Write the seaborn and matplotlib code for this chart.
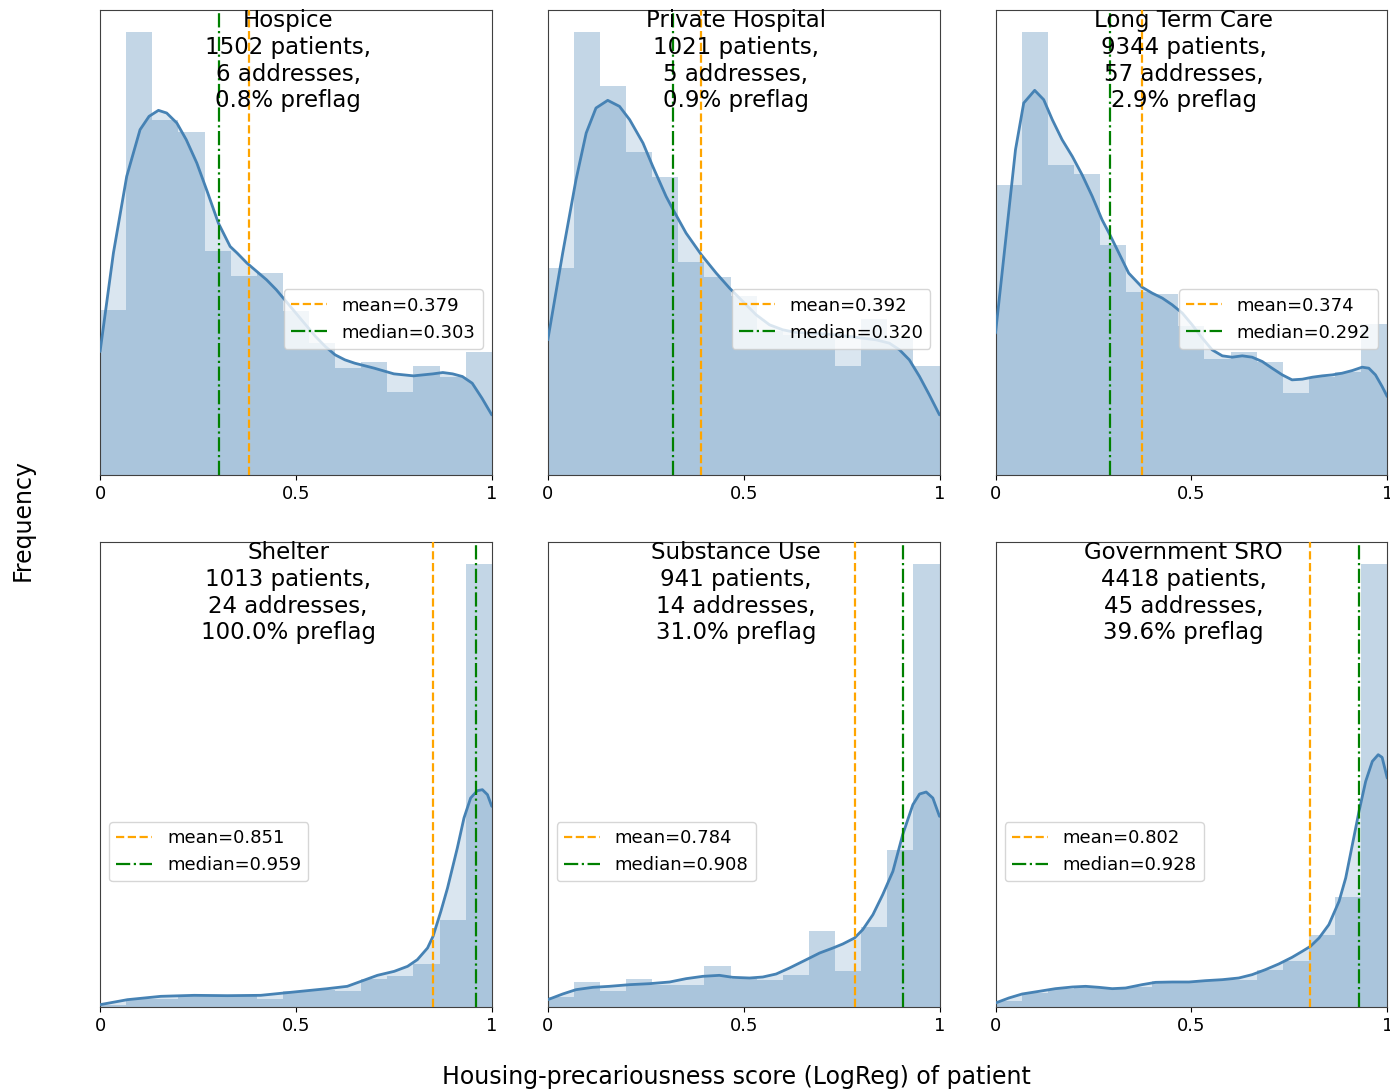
import numpy as np
import pandas as pd
import matplotlib
matplotlib.use("Agg")
import matplotlib.pyplot as plt
import seaborn as sns

# panels, in reading order
groups = ["Hospice", "Private Hospital", "Long Term Care",
          "Shelter", "Substance Use", "Government SRO"]
n_patients = [1502, 1021, 9344, 1013, 941, 4418]
n_addresses = [6, 5, 57, 24, 14, 45]
preflag_pct = [0.8, 0.9, 2.9, 100.0, 31.0, 39.6]
means = [0.379, 0.392, 0.374, 0.851, 0.784, 0.802]
medians = [0.303, 0.320, 0.292, 0.959, 0.908, 0.928]

# histogram heights (15 bins on [0, 1], arbitrary density units)
hist_hospice = [495, 1328, 1063, 1029, 670, 595, 605, 490, 395, 320, 340, 250, 328, 295, 370]
hist_private = [620, 1328, 1167, 968, 893, 638, 592, 535, 430, 420, 410, 328, 467, 410, 328]
hist_ltc = [868, 1328, 928, 903, 690, 548, 542, 445, 348, 368, 338, 245, 293, 308, 453]
hist_shelter = [7, 25, 25, 34, 32, 32, 25, 47, 50, 47, 84, 92, 130, 260, 1329]
hist_substance = [29, 75, 47, 84, 65, 65, 124, 84, 82, 95, 229, 109, 239, 470, 1329]
hist_sro = [17, 42, 55, 62, 57, 59, 77, 74, 82, 82, 112, 139, 217, 329, 1329]

# kde curves, points (same units as the bars)
kde_x_hospice = [0, 0.034, 0.068, 0.102, 0.125, 0.149, 0.17, 0.196, 0.22, 0.247, 0.275, 0.302,
                 0.332, 0.35, 0.375, 0.4, 0.425, 0.45, 0.475, 0.5, 0.525, 0.55, 0.575, 0.6,
                 0.625, 0.65, 0.7, 0.75, 0.8, 0.85, 0.875, 0.9, 0.925, 0.95, 0.975, 1.0]
kde_y_hospice = [370, 665, 895, 1035, 1075, 1093, 1085, 1055, 1005, 935, 845, 755,
                 685, 665, 635, 610, 585, 555, 520, 485, 450, 415, 385, 360,
                 345, 335, 320, 303, 297, 303, 307, 303, 295, 275, 230, 180]
kde_x_private = [0, 0.038, 0.072, 0.098, 0.123, 0.153, 0.183, 0.209, 0.243, 0.268, 0.302,
                 0.320, 0.353, 0.392, 0.430, 0.464, 0.498, 0.532, 0.566, 0.6, 0.634, 0.668,
                 0.702, 0.736, 0.770, 0.804, 0.838, 0.872, 0.898, 0.923, 0.949, 0.974, 1.0]
kde_y_private = [405, 665, 885, 1025, 1100, 1123, 1105, 1065, 995, 925, 835,
                 795, 725, 660, 605, 560, 520, 480, 450, 435, 427, 425,
                 423, 420, 415, 410, 405, 395, 375, 345, 295, 240, 180]
kde_x_ltc = [0, 0.026, 0.051, 0.072, 0.100, 0.123, 0.145, 0.170, 0.196, 0.221, 0.247, 0.272,
             0.292, 0.315, 0.340, 0.374, 0.4, 0.426, 0.451, 0.477, 0.502, 0.528, 0.553,
             0.579, 0.604, 0.630, 0.655, 0.681, 0.706, 0.732, 0.757, 0.783, 0.809, 0.834,
             0.860, 0.885, 0.911, 0.936, 0.953, 0.970, 0.987, 1.0]
kde_y_ltc = [425, 705, 975, 1115, 1153, 1125, 1065, 1005, 955, 900, 835, 765,
             720, 665, 605, 563, 545, 530, 510, 485, 450, 410, 375,
             357, 353, 357, 353, 340, 320, 300, 285, 287, 293, 297,
             300, 305, 313, 323, 320, 300, 265, 235]
kde_x_shelter = [0, 0.070, 0.155, 0.240, 0.325, 0.410, 0.495, 0.580, 0.631, 0.666, 0.708,
                 0.751, 0.785, 0.810, 0.836, 0.850, 0.870, 0.887, 0.912, 0.929, 0.946,
                 0.963, 0.976, 0.989, 1.0]
kde_y_shelter = [7, 22, 32, 35, 34, 35, 45, 55, 62, 77, 95,
                 107, 122, 142, 177, 212, 287, 357, 477, 567, 627,
                 649, 652, 637, 602]
kde_x_substance = [0, 0.038, 0.072, 0.115, 0.157, 0.209, 0.260, 0.311, 0.353, 0.396, 0.438,
                   0.472, 0.515, 0.549, 0.583, 0.617, 0.660, 0.694, 0.728, 0.753, 0.783,
                   0.804, 0.830, 0.855, 0.881, 0.906, 0.932, 0.949, 0.966, 0.983, 1.0]
kde_y_substance = [22, 39, 52, 59, 62, 67, 70, 75, 85, 92, 95,
                   89, 87, 90, 99, 117, 142, 162, 177, 189, 207,
                   232, 277, 337, 407, 517, 607, 639, 645, 627, 572]
kde_x_sro = [0, 0.034, 0.068, 0.111, 0.153, 0.196, 0.230, 0.264, 0.298, 0.332, 0.374,
             0.409, 0.451, 0.494, 0.536, 0.579, 0.621, 0.655, 0.689, 0.723, 0.757,
             0.783, 0.804, 0.826, 0.851, 0.877, 0.894, 0.911, 0.928, 0.945, 0.962,
             0.977, 0.987, 1.0]
kde_y_sro = [12, 27, 39, 47, 55, 60, 62, 59, 55, 57, 67,
             74, 75, 75, 79, 82, 87, 97, 112, 129, 149,
             167, 182, 207, 247, 317, 387, 487, 587, 677, 737,
             757, 749, 687]

hists = [hist_hospice, hist_private, hist_ltc, hist_shelter, hist_substance, hist_sro]
kde_xs = [kde_x_hospice, kde_x_private, kde_x_ltc, kde_x_shelter, kde_x_substance, kde_x_sro]
kde_ys = [kde_y_hospice, kde_y_private, kde_y_ltc, kde_y_shelter, kde_y_substance, kde_y_sro]

n_bins = 15
centers = (np.arange(n_bins) + 0.5) / n_bins

fig, axes = plt.subplots(2, 3, figsize=(13.9, 10.91), dpi=100)
fig.subplots_adjust(left=0.072, right=0.998, top=0.991, bottom=0.077,
                    wspace=0.143, hspace=0.144)

for i, ax in enumerate(axes.flat):
    bars = pd.DataFrame({"score": centers, "h": hists[i]})
    sns.histplot(data=bars, x="score", weights="h", bins=n_bins, binrange=(0, 1),
                 stat="count", color="steelblue", alpha=0.32, linewidth=0, ax=ax)
    # shaded kde, semi-transparent so the bars show through
    ax.fill_between(kde_xs[i], kde_ys[i], 0, color="steelblue", alpha=0.2,
                    zorder=2, linewidth=0)
    sns.lineplot(x=kde_xs[i], y=kde_ys[i], color="steelblue", lw=2, ax=ax, zorder=3,
                 solid_joinstyle="round", solid_capstyle="round")
    ax.axvline(means[i], color="orange", ls="--", lw=1.6, zorder=4,
               label="mean=%.3f" % means[i])
    ax.axvline(medians[i], color="green", ls="-.", lw=1.6, zorder=4,
               label="median=%.3f" % medians[i])

    ax.set_xlim(0, 1)
    ax.set_ylim(0, max(hists[i]) * 1.05)
    ax.set_xticks([0, 0.5, 1])
    ax.set_xticklabels(["0", "0.5", "1"], fontsize=13)
    ax.set_yticks([])
    ax.set_xlabel("")
    ax.set_ylabel("")
    for s in ax.spines.values():
        s.set_color("0.25")

    ax.text(0.48, 1.001, "%s\n%d patients,\n%d addresses,\n%.1f%% preflag"
            % (groups[i], n_patients[i], n_addresses[i], preflag_pct[i]),
            transform=ax.transAxes, ha="center", va="top", fontsize=16.5, zorder=5)

    if i < 3:
        ax.legend(loc="center right", bbox_to_anchor=(1, 0.335), fontsize=13)
    else:
        ax.legend(loc="center left", bbox_to_anchor=(0, 0.334), fontsize=13)

fig.text(0.53, 0.0128, "Housing-precariousness score (LogReg) of patient",
         ha="center", va="center", fontsize=17)
fig.text(0.016, 0.523, "Frequency", rotation=90, ha="center", va="center", fontsize=17)

fig.savefig("out.png", dpi=100)
